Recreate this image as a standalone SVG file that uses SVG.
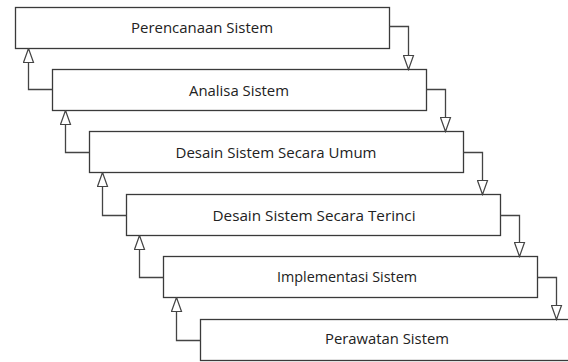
<svg xmlns="http://www.w3.org/2000/svg" width="568" height="362" viewBox="0 0 568 362">
<defs>
<style>
.box{fill:#fff;stroke:#3a3a3a;stroke-width:1.3}
.lbl{font-family:"Open Sans","Liberation Sans",sans-serif;font-size:14.5px;fill:#222;text-anchor:middle}
.con{fill:none;stroke:#444;stroke-width:1.3}
</style>
<marker id="tri" markerUnits="userSpaceOnUse" viewBox="0 0 16 12" refX="15" refY="6" markerWidth="16" markerHeight="12" orient="auto">
<path d="M1,1 L15,6 L1,11 Z" fill="#fff" stroke="#444" stroke-width="1.2"/>
</marker>
</defs>
<rect width="568" height="362" fill="#fff"/>
<g id="n1"><rect class="box" x="15.5" y="7.5" width="374" height="41"/><text class="lbl" x="202" y="33" textLength="142" lengthAdjust="spacingAndGlyphs">Perencanaan Sistem</text></g>
<g id="n2"><rect class="box" x="52.5" y="69.5" width="374" height="41"/><text class="lbl" x="239" y="95.5" textLength="100" lengthAdjust="spacingAndGlyphs">Analisa Sistem</text></g>
<g id="n3"><rect class="box" x="89.5" y="131.5" width="374" height="41"/><text class="lbl" x="276" y="158" textLength="201" lengthAdjust="spacingAndGlyphs">Desain Sistem Secara Umum</text></g>
<g id="n4"><rect class="box" x="126.5" y="194.5" width="374" height="41"/><text class="lbl" x="314" y="220.5" textLength="203" lengthAdjust="spacingAndGlyphs">Desain Sistem Secara Terinci</text></g>
<g id="n5"><rect class="box" x="163.5" y="256.5" width="374" height="41"/><text class="lbl" x="347" y="281.5" textLength="140" lengthAdjust="spacingAndGlyphs">Implementasi Sistem</text></g>
<g id="n6"><rect class="box" x="200.5" y="319.5" width="374" height="41"/><text class="lbl" x="387" y="344" textLength="124" lengthAdjust="spacingAndGlyphs">Perawatan Sistem</text></g>
<g id="connectors">
<path class="con" d="M389.5,26.5 H408.5 V69.5" marker-end="url(#tri)"/>
<path class="con" d="M426.5,89.5 H445.5 V131.5" marker-end="url(#tri)"/>
<path class="con" d="M463.5,152.5 H482.5 V194.5" marker-end="url(#tri)"/>
<path class="con" d="M500.5,215.5 H519.5 V256.5" marker-end="url(#tri)"/>
<path class="con" d="M537.5,277.5 H556.5 V319.5" marker-end="url(#tri)"/>
<path class="con" d="M52.5,89.5 H28.5 V48.5" marker-end="url(#tri)"/>
<path class="con" d="M89.5,152.5 H65.5 V110.5" marker-end="url(#tri)"/>
<path class="con" d="M126.5,215.5 H102.5 V172.5" marker-end="url(#tri)"/>
<path class="con" d="M163.5,277.5 H139.5 V235.5" marker-end="url(#tri)"/>
<path class="con" d="M200.5,340.5 H176.5 V297.5" marker-end="url(#tri)"/>
</g>
</svg>
